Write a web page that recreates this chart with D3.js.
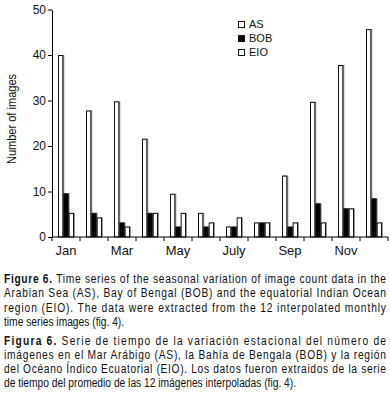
<!DOCTYPE html>
<html>
<head>
<meta charset="utf-8">
<script src="https://cdn.jsdelivr.net/npm/d3@7"></script>
<style>
  body { margin: 0; background: #fff; }
  svg { display: block; }
  text { font-family: "Liberation Sans", Arial, sans-serif; fill: #111; }
</style>
</head>
<body>
<svg id="chart"></svg>
<script>
const months = ['Jan', 'Feb', 'Mar', 'Apr', 'May', 'Jun', 'Jul', 'Aug', 'Sep', 'Oct', 'Nov', 'Dec'];
const monthLabels = ['Jan', '', 'Mar', '', 'May', '', 'July', '', 'Sep', '', 'Nov', ''];
const series = ['AS', 'BOB', 'EIO'];
const asVals = [40, 27.8, 29.8, 21.6, 9.5, 5.3, 2.3, 3.2, 13.5, 29.7, 37.8, 45.7];
const bobVals = [9.6, 5.3, 3.2, 5.3, 2.3, 2.3, 2.3, 3.2, 2.3, 7.4, 6.3, 8.5];
const eioVals = [5.3, 4.3, 2.3, 5.3, 5.3, 3.2, 4.3, 3.2, 3.2, 3.2, 6.3, 3.2];
const yTicks = [0, 10, 20, 30, 40, 50];

const captionEn = [
  'Time series of the seasonal variation of image count data in the',
  'Arabian Sea (AS), Bay of Bengal (BOB) and the equatorial Indian Ocean',
  'region (EIO). The data were extracted from the 12 interpolated monthly',
  'time series images (fig. 4).'
];
const captionEs = [
  'Serie de tiempo de la variación estacional del número de',
  'imágenes en el Mar Arábigo (AS), la Bahía de Bengala (BOB) y la región',
  'del Océano Índico Ecuatorial (EIO). Los datos fueron extraidos de la serie',
  'de tiempo del promedio de las 12 imágenes interpoladas (fig. 4).'
];

const width = 391, height = 401;
const svg = d3.select('#chart').attr('width', width).attr('height', height);

const x = d3.scaleBand().domain(months).range([52, 388]);
const x1 = d3.scaleBand().domain(series).range([6, 22]);
const y = d3.scaleLinear().domain([0, 50]).range([237, 9.5]);

const fills = {AS: '#fff', BOB: '#000', EIO: '#fff'};
const rows = months.map((m, i) => ({m, AS: asVals[i], BOB: bobVals[i], EIO: eioVals[i]}));

// y axis
svg.append('g')
  .attr('transform', 'translate(52,0)')
  .call(d3.axisLeft(y).tickValues(yTicks).tickSize(4).tickSizeOuter(0))
  .call(g => g.selectAll('text').attr('font-size', 12).attr('x', -6))
  .call(g => g.selectAll('line, path').attr('stroke', '#000'))
  .call(g => g.attr('font-family', null));

svg.append('text')
  .attr('transform', 'translate(16,119) rotate(-90) scale(0.85,1)')
  .attr('text-anchor', 'middle')
  .attr('font-size', 13)
  .text('Number of images');

// bars
const groups = svg.append('g').selectAll('g')
  .data(rows)
  .join('g')
  .attr('transform', d => `translate(${x(d.m)},0)`);

groups.selectAll('rect.shadow')
  .data(d => series.map(k => ({k, v: d[k]})))
  .join('rect')
  .attr('class', 'shadow')
  .attr('x', d => x1(d.k) + 1)
  .attr('y', d => y(d.v))
  .attr('width', x1.bandwidth())
  .attr('height', d => y(0) - y(d.v))
  .attr('fill', '#999');

groups.selectAll('rect.bar')
  .data(d => series.map(k => ({k, v: d[k]})))
  .join('rect')
  .attr('class', 'bar')
  .attr('x', d => x1(d.k) + 0.5)
  .attr('y', d => y(d.v) + 0.5)
  .attr('width', x1.bandwidth() - 1)
  .attr('height', d => y(0) - y(d.v) - 0.5)
  .attr('fill', d => fills[d.k])
  .attr('stroke', '#111')
  .attr('stroke-width', 1);

// x axis
const xAxis = svg.append('g').attr('transform', `translate(0,${y(0)})`);
xAxis.append('line')
  .attr('x1', x.range()[0]).attr('x2', x.range()[1])
  .attr('stroke', '#000');
xAxis.selectAll('line.tick')
  .data(months.concat(['end']))
  .join('line')
  .attr('class', 'tick')
  .attr('x1', (d, i) => x.range()[0] + i * x.step())
  .attr('x2', (d, i) => x.range()[0] + i * x.step())
  .attr('y1', 0).attr('y2', 4)
  .attr('stroke', '#000');
xAxis.selectAll('text')
  .data(months)
  .join('text')
  .attr('x', d => x(d) + x.bandwidth() / 2)
  .attr('y', 18)
  .attr('text-anchor', 'middle')
  .attr('font-size', 13)
  .text((d, i) => monthLabels[i]);

// legend
const legend = svg.append('g').attr('transform', 'translate(238,21)');
series.forEach((s, i) => {
  const g = legend.append('g').attr('transform', `translate(0,${i * 14})`);
  g.append('rect')
    .attr('x', 0.5).attr('y', 0.5)
    .attr('width', 6).attr('height', 6)
    .attr('fill', fills[s]).attr('stroke', '#111');
  g.append('text')
    .attr('x', 11).attr('y', 7)
    .attr('font-size', 11)
    .text(s);
});

// caption: narrow type made by a horizontal squeeze, justified by letter spacing
const squeeze = 0.82;
const capLeft = 4, capRight = 386;
const cap = svg.append('g').attr('transform', `translate(${capLeft},0) scale(${squeeze},1)`);
function captionLine(txt, yPos, bold, justify) {
  const t = cap.append('text')
    .attr('x', 0).attr('y', yPos)
    .attr('font-size', 12.5)
    .attr('xml:space', 'preserve');
  if (bold) {
    t.append('tspan').attr('font-weight', 'bold').text(bold + ' ');
  }
  t.append('tspan').text(txt);
  if (justify) {
    t.attr('textLength', (capRight - capLeft) / squeeze).attr('lengthAdjust', 'spacing');
  }
}
const enY = [283, 297.5, 312, 326.5];
const esY = [345, 359, 373, 387];
captionEn.forEach((l, i) => captionLine(l, enY[i], i === 0 ? 'Figure 6.' : null, i < 3));
captionEs.forEach((l, i) => captionLine(l, esY[i], i === 0 ? 'Figura 6.' : null, i < 3));
</script>
</body>
</html>
